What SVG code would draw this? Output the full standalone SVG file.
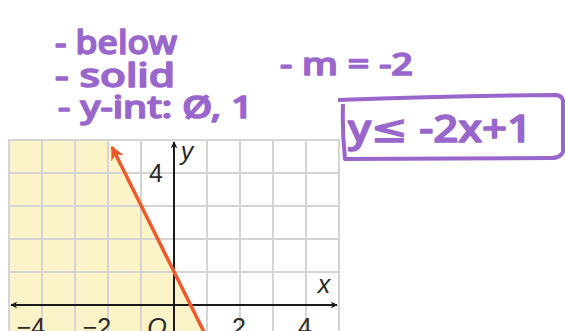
<svg xmlns="http://www.w3.org/2000/svg" width="565" height="331" viewBox="0 0 565 331">
<defs>
<style>
.grid{stroke:#d4d4d4;stroke-width:2;fill:none}
.axis{stroke:#1a1a1a;stroke-width:2;fill:none}
.lbl{font-family:"Liberation Sans",Arial,sans-serif;font-size:25px;fill:#2a2a2a}
.it{font-style:italic}
.hw{font-family:"Noto Sans","DejaVu Sans",sans-serif;font-weight:500;fill:#9966cc;stroke:#9966cc;stroke-width:1.5;stroke-linejoin:round}
</style>
<marker id="ah" viewBox="0 0 10 10" refX="9" refY="5" markerWidth="7" markerHeight="7" orient="auto-start-reverse" markerUnits="userSpaceOnUse">
<path d="M0,0 L10,5 L0,10 L3,5 Z" fill="#1a1a1a"/>
</marker>
<marker id="ro" viewBox="0 0 10 10" refX="9" refY="5" markerWidth="14" markerHeight="14" orient="auto" markerUnits="userSpaceOnUse">
<path d="M0,0 L10,5 L0,10 L3,5 Z" fill="#ee5a2c"/>
</marker>
</defs>
<rect width="565" height="331" fill="#ffffff"/>
<g id="graph">
<polygon points="9,140 108,140 206.5,337 9,337" fill="#fcf4c8"/>
<g class="grid">
<rect x="9" y="140" width="330" height="200"/>
<path d="M42,140V331M75,140V331M108,140V331M141,140V331M207,140V331M240,140V331M273,140V331M306,140V331M9,173H339M9,206H339M9,239H339M9,272H339"/>
</g>
<g id="axes">
<line class="axis" x1="11" y1="305" x2="337" y2="305" marker-start="url(#ah)" marker-end="url(#ah)"/>
<line class="axis" x1="174" y1="331" x2="174" y2="142" marker-end="url(#ah)"/>
</g>
<g id="boundary">
<line x1="206.5" y1="337" x2="112" y2="147" stroke="#ee5a2c" stroke-width="3.5" marker-end="url(#ro)"/>
</g>
<g id="labels">
<text class="lbl" x="156" y="182" text-anchor="middle">4</text>
<text class="lbl it" x="187" y="160" text-anchor="middle">y</text>
<text class="lbl it" x="324" y="293" text-anchor="middle">x</text>
<text class="lbl" x="31" y="336" text-anchor="middle">−4</text>
<text class="lbl" x="97" y="336" text-anchor="middle">−2</text>
<text class="lbl it" x="157" y="336" text-anchor="middle">O</text>
<text class="lbl" x="239" y="336" text-anchor="middle">2</text>
<text class="lbl" x="305" y="336" text-anchor="middle">4</text>
</g>
</g>
<g id="notes">
<text class="hw" x="55" y="54" font-size="33" textLength="122" lengthAdjust="spacingAndGlyphs">- below</text>
<text class="hw" x="55" y="87" font-size="32" textLength="120" lengthAdjust="spacingAndGlyphs">- solid</text>
<text class="hw" x="58" y="118" font-size="31" textLength="195" lengthAdjust="spacingAndGlyphs">- y-int: Ø, 1</text>
<text class="hw" x="280" y="75" font-size="30" textLength="133" lengthAdjust="spacingAndGlyphs">- m = -2</text>
</g>
<g id="answer">
<path d="M338,100 Q450,96 556,95 Q564,96 563,104 L563,152 Q560,158 552,158 L345,159 Q342,130 343,104" fill="none" stroke="#9966cc" stroke-width="4" stroke-linejoin="round"/>
<text class="hw" x="348" y="142" font-size="38" textLength="184" lengthAdjust="spacingAndGlyphs">y≤ -2x+1</text>
</g>
</svg>
